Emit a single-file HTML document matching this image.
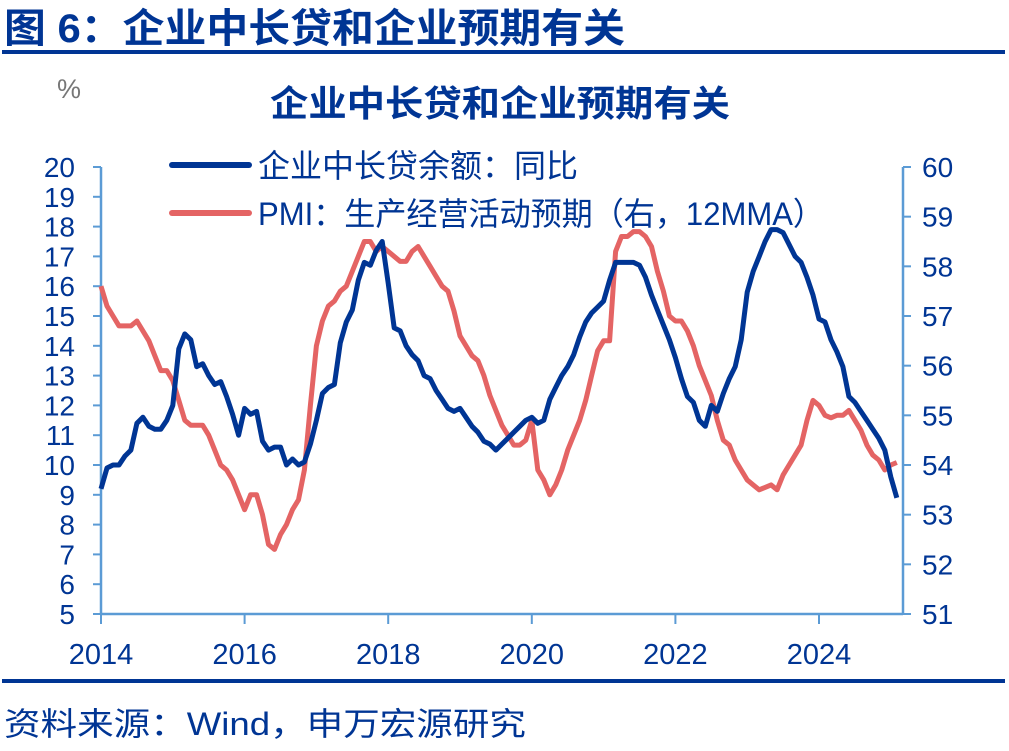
<!DOCTYPE html>
<html><head><meta charset="utf-8"><style>
body{margin:0;background:#fff;width:1009px;height:746px;overflow:hidden;font-family:"Liberation Sans","Noto Sans CJK SC",sans-serif;}
</style></head><body>
<svg id="chart" width="1009" height="746" viewBox="0 0 1009 746" xmlns="http://www.w3.org/2000/svg" font-family="Liberation Sans, Noto Sans CJK SC, sans-serif">
<text x="4" y="42" font-size="40" font-weight="bold" fill="#003594" textLength="621" lengthAdjust="spacingAndGlyphs">图 6：企业中长贷和企业预期有关</text>
<rect x="2" y="50" width="1003" height="4" fill="#003594"/>
<text x="57" y="98" font-size="27" fill="#777">%</text>
<text x="270" y="116" font-size="36" font-weight="bold" fill="#003594" textLength="460" lengthAdjust="spacingAndGlyphs">企业中长贷和企业预期有关</text>
<g id="axes"></g>
<g id="series"></g>
<line x1="172" y1="165" x2="249" y2="165" stroke="#003594" stroke-width="6" stroke-linecap="round"/>
<text x="258" y="177" font-size="32" fill="#003594" textLength="320" lengthAdjust="spacingAndGlyphs">企业中长贷余额：同比</text>
<line x1="172" y1="213" x2="249" y2="213" stroke="#e46464" stroke-width="6" stroke-linecap="round"/>
<text x="258" y="225" font-size="32" fill="#003594" textLength="566" lengthAdjust="spacingAndGlyphs">PMI：生产经营活动预期（右，12MMA）</text>
<rect x="2" y="679" width="1003" height="4" fill="#003594"/>
<text x="4" y="735" font-size="32" fill="#003594" textLength="522" lengthAdjust="spacingAndGlyphs">资料来源：Wind，申万宏源研究</text>
</svg>
<script>
const startYear = 2014;
const xTickYears = [2014, 2016, 2018, 2020, 2022, 2024];
const leftTicks = [5,6,7,8,9,10,11,12,13,14,15,16,17,18,19,20];
const rightTicks = [51,52,53,54,55,56,57,58,59,60];
const loanGrowth = [9.2,9.9,10.0,10.0,10.3,10.5,11.4,11.6,11.3,11.2,11.2,11.5,12.0,13.9,14.4,14.2,13.3,13.4,13.0,12.7,12.8,12.3,11.7,11.0,11.9,11.7,11.8,10.8,10.5,10.6,10.6,10.0,10.2,10.0,10.1,10.7,11.5,12.4,12.6,12.7,14.1,14.8,15.2,16.2,16.8,16.7,17.2,17.5,16.1,14.6,14.5,14.0,13.7,13.5,13.0,12.9,12.5,12.2,11.9,11.8,11.9,11.6,11.3,11.1,10.8,10.7,10.5,10.7,10.9,11.1,11.3,11.5,11.6,11.4,11.5,12.2,12.6,13.0,13.3,13.7,14.3,14.8,15.1,15.3,15.5,16.2,16.8,16.8,16.8,16.8,16.7,16.3,15.7,15.2,14.7,14.2,13.6,12.9,12.3,12.1,11.5,11.3,12.0,11.8,12.4,12.9,13.3,14.2,15.8,16.5,17.0,17.5,17.9,17.9,17.8,17.4,17.0,16.8,16.3,15.7,14.9,14.8,14.2,13.8,13.3,12.3,12.1,11.8,11.5,11.2,10.9,10.5,9.6,8.9];
const pmiExpect = [57.6,57.2,57.0,56.8,56.8,56.8,56.9,56.7,56.5,56.2,55.9,55.9,55.7,55.3,54.9,54.8,54.8,54.8,54.6,54.3,54.0,53.9,53.7,53.4,53.1,53.4,53.4,53.0,52.4,52.3,52.6,52.8,53.1,53.3,53.9,55.2,56.4,56.9,57.2,57.3,57.5,57.6,57.9,58.2,58.5,58.5,58.3,58.4,58.3,58.2,58.1,58.1,58.3,58.4,58.2,58.0,57.8,57.6,57.5,57.1,56.6,56.4,56.2,56.1,55.8,55.4,55.1,54.8,54.6,54.4,54.4,54.5,54.9,53.9,53.7,53.4,53.6,53.9,54.3,54.6,54.9,55.3,55.8,56.3,56.5,56.5,58.3,58.6,58.6,58.7,58.7,58.6,58.4,57.9,57.5,57.0,56.9,56.9,56.7,56.4,56.0,55.7,55.4,54.9,54.5,54.4,54.1,53.9,53.7,53.6,53.5,53.55,53.6,53.5,53.8,54.0,54.2,54.4,54.9,55.3,55.2,55.0,54.95,55.0,55.0,55.1,54.9,54.7,54.4,54.2,54.1,53.9,54.0,54.05];

const NS='http://www.w3.org/2000/svg';
const X0=101, X1=903, YT=167, YB=614, PX_PER_YEAR=71.8;
const xMonth = m => X0 + m*PX_PER_YEAR/12;
const xYear = y => X0 + (y-startYear)*PX_PER_YEAR;
const yL = v => YB - (v-5)/(20-5)*(YB-YT);
const yR = v => YB - (v-51)/(60-51)*(YB-YT);
const axes=document.getElementById('axes'), series=document.getElementById('series');
function mk(tag, attrs, parent){const e=document.createElementNS(NS,tag);for(const k in attrs)e.setAttribute(k,attrs[k]);parent.appendChild(e);return e;}
const AX='#5b9bd5', TX='#003594';
let e;
e=mk('line',{x1:X0,y1:YT,x2:X0,y2:YB,stroke:AX,'stroke-width':2.5},axes);


e=mk('line',{x1:X1,y1:YT,x2:X1,y2:YB,stroke:AX,'stroke-width':2.5},axes);


e=mk('line',{x1:X0,y1:YB,x2:X1,y2:YB,stroke:AX,'stroke-width':2.5},axes);


leftTicks.forEach(v=>{
  const y=yL(v);
  e=mk('line',{x1:X0-8,y1:y,x2:X0,y2:y,stroke:AX,'stroke-width':2},axes);
  
  
  e=mk('text',{x:75,y:y+10,'font-size':28,fill:TX,'text-anchor':'end'},axes);
  e.textContent=v;
  
  
});
rightTicks.forEach(v=>{
  const y=yR(v);
  e=mk('line',{x1:X1,y1:y,x2:X1+8,y2:y,stroke:AX,'stroke-width':2},axes);
  
  
  e=mk('text',{x:922,y:y+10,'font-size':28,fill:TX},axes);
  e.textContent=v;
  
  
});
xTickYears.forEach(yr=>{
  const x=xYear(yr);
  e=mk('line',{x1:x,y1:YB,x2:x,y2:YB+10,stroke:AX,'stroke-width':2},axes);
  
  
  e=mk('text',{x:x,y:664,'font-size':29,fill:TX,'text-anchor':'middle'},axes);
  e.textContent=yr;
  
  
});
const pmiPts=pmiExpect.map((v,i)=>xMonth(i).toFixed(1)+','+yR(v).toFixed(1)).join(' ');
e=mk('polyline',{points:pmiPts,fill:'none',stroke:'#e46464','stroke-width':5,'stroke-linejoin':'round'},series);


const loanPts=loanGrowth.map((v,i)=>xMonth(i).toFixed(1)+','+yL(v).toFixed(1)).join(' ');
e=mk('polyline',{points:loanPts,fill:'none',stroke:'#003594','stroke-width':5,'stroke-linejoin':'round'},series);


</script>
</body></html>
